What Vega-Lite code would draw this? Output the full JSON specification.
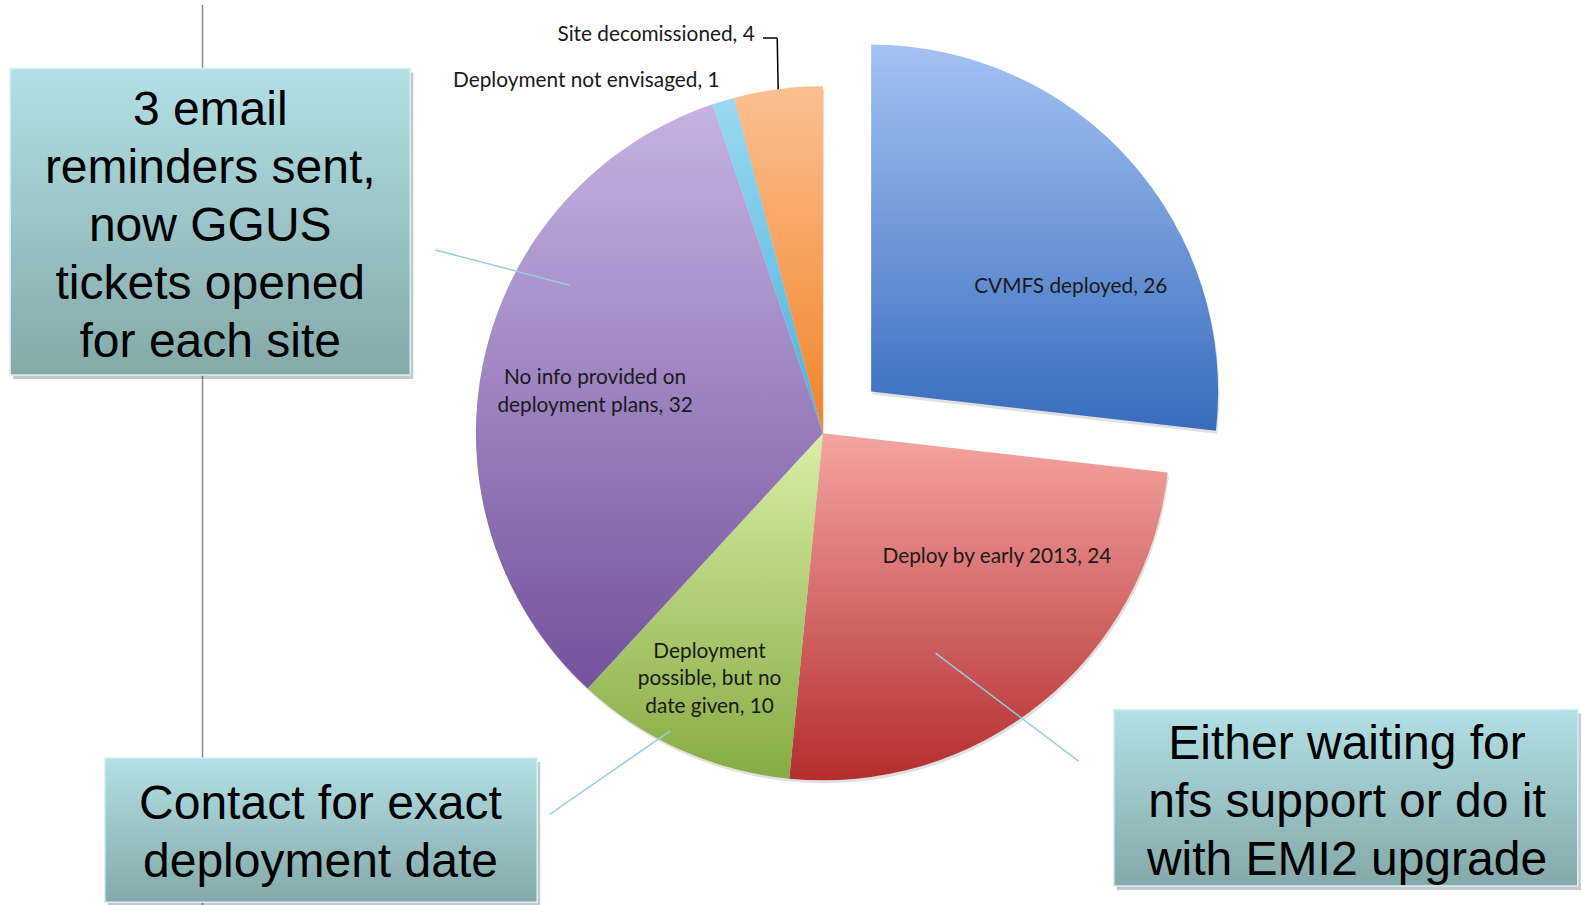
{
  "$schema": "https://vega.github.io/schema/vega-lite/v6.json",
  "width": 1581,
  "height": 905,
  "padding": 0,
  "autosize": {"type": "none"},
  "background": "#ffffff",
  "config": {"view": {"stroke": null}, "axis": {"disable": true}},
  "datasets": {
    "slices": [
      {"category": "CVMFS deployed", "value": 26, "order": 1, "label": "CVMFS deployed, 26"},
      {"category": "Deploy by early 2013", "value": 24, "order": 2, "label": "Deploy by early 2013, 24"},
      {"category": "Deployment possible, but no date given", "value": 10, "order": 3, "label": "Deployment\npossible, but no\ndate given, 10"},
      {"category": "No info provided on deployment plans", "value": 32, "order": 4, "label": "No info provided on\ndeployment plans, 32"},
      {"category": "Deployment not envisaged", "value": 1, "order": 5, "label": "Deployment not envisaged, 1"},
      {"category": "Site decomissioned", "value": 4, "order": 6, "label": "Site decomissioned, 4"}
    ],
    "boxes": [
      {"x1": 0.64, "x2": 25.95, "y1": 7.57, "y2": 41.43, "tx": 13.30, "ty": 12.25, "text": "3 email\nreminders sent,\nnow GGUS\ntickets opened\nfor each site"},
      {"x1": 6.63, "x2": 33.98, "y1": 83.75, "y2": 99.69, "tx": 20.27, "ty": 89.0, "text": "Contact for exact\ndeployment date"},
      {"x1": 70.45, "x2": 99.8, "y1": 78.4, "y2": 97.9, "tx": 85.2, "ty": 82.3, "text": "Either waiting for\nnfs support or do it\nwith EMI2 upgrade"}
    ],
    "divider": [
      {"x1": 12.81, "y1": 0.55, "x2": 12.81, "y2": 100}
    ],
    "connectors": [
      {"x1": 27.54, "y1": 27.62, "x2": 36.03, "y2": 31.52},
      {"x1": 34.75, "y1": 90.0, "x2": 42.40, "y2": 80.75},
      {"x1": 59.17, "y1": 72.17, "x2": 68.22, "y2": 84.10}
    ],
    "leader": [
      {"x1": 48.26, "y1": 4.2, "x2": 49.16, "y2": 4.2},
      {"x1": 49.16, "y1": 4.2, "x2": 49.22, "y2": 9.85}
    ]
  },
  "layer": [
    {
      "data": {"name": "divider"},
      "mark": {"type": "rule", "color": "#8a8a8a", "strokeWidth": 1.5},
      "encoding": {
        "x": {"field": "x1", "type": "quantitative", "scale": {"domain": [0, 100], "nice": false, "zero": false}, "axis": null},
        "y": {"field": "y1", "type": "quantitative", "scale": {"domain": [0, 100], "nice": false, "zero": false, "reverse": true}, "axis": null},
        "x2": {"field": "x2"},
        "y2": {"field": "y2"}
      }
    },
    {
      "data": {"name": "slices"},
      "mark": {"type": "arc", "radius": 347, "opacity": 0.18},
      "encoding": {
        "x": {"datum": 52.13, "type": "quantitative"},
        "y": {"datum": 48.2, "type": "quantitative"},
        "theta": {"field": "value", "type": "quantitative", "stack": true},
        "order": {"field": "order"},
        "fill": {"condition": {"test": "datum.order !== 1", "value": "#555555"}, "value": null}
      }
    },
    {
      "data": {"name": "slices"},
      "mark": {"type": "arc", "radius": 347, "opacity": 0.18},
      "encoding": {
        "x": {"datum": 55.18, "type": "quantitative"},
        "y": {"datum": 43.6, "type": "quantitative"},
        "theta": {"field": "value", "type": "quantitative", "stack": true},
        "order": {"field": "order"},
        "fill": {"condition": {"test": "datum.order === 1", "value": "#555555"}, "value": null}
      }
    },
    {
      "data": {"name": "slices"},
      "mark": {"type": "arc", "radius": 347},
      "encoding": {
        "x": {"datum": 52.05, "type": "quantitative"},
        "y": {"datum": 47.88, "type": "quantitative"},
        "theta": {"field": "value", "type": "quantitative", "stack": true},
        "order": {"field": "order"},
        "fill": {
          "condition": [
            {"test": "datum.order === 2", "value": {"gradient": "linear", "x1": 0, "y1": 0, "x2": 0, "y2": 1, "stops": [{"offset": 0, "color": "#f5a5a2"}, {"offset": 1, "color": "#b32e2e"}]}},
            {"test": "datum.order === 3", "value": {"gradient": "linear", "x1": 0, "y1": 0, "x2": 0, "y2": 1, "stops": [{"offset": 0, "color": "#d8efa5"}, {"offset": 1, "color": "#86ab44"}]}},
            {"test": "datum.order === 4", "value": {"gradient": "linear", "x1": 0, "y1": 0, "x2": 0, "y2": 1, "stops": [{"offset": 0, "color": "#c6b2e2"}, {"offset": 1, "color": "#73529c"}]}},
            {"test": "datum.order === 5", "value": {"gradient": "linear", "x1": 0, "y1": 0, "x2": 0, "y2": 1, "stops": [{"offset": 0, "color": "#9ad8f0"}, {"offset": 1, "color": "#4ab2db"}]}},
            {"test": "datum.order === 6", "value": {"gradient": "linear", "x1": 0, "y1": 0, "x2": 0, "y2": 1, "stops": [{"offset": 0, "color": "#fcbf90"}, {"offset": 1, "color": "#ef8428"}]}}
          ],
          "value": null
        }
      }
    },
    {
      "data": {"name": "slices"},
      "mark": {"type": "arc", "radius": 347},
      "encoding": {
        "x": {"datum": 55.1, "type": "quantitative"},
        "y": {"datum": 43.27, "type": "quantitative"},
        "theta": {"field": "value", "type": "quantitative", "stack": true},
        "order": {"field": "order"},
        "fill": {
          "condition": {"test": "datum.order === 1", "value": {"gradient": "linear", "x1": 0, "y1": 0, "x2": 0, "y2": 1, "stops": [{"offset": 0, "color": "#a4c2f3"}, {"offset": 1, "color": "#386cbd"}]}},
          "value": null
        }
      }
    },
    {
      "data": {"name": "slices"},
      "mark": {"type": "text", "radius": 222, "dx": 34, "dy": 43, "font": "Lato", "fontSize": 20.8, "color": "#1a1a1a", "lineBreak": "\n", "lineHeight": 27.5, "align": "center", "baseline": "middle"},
      "encoding": {
        "x": {"datum": 55.1, "type": "quantitative"},
        "y": {"datum": 43.27, "type": "quantitative"},
        "theta": {"field": "value", "type": "quantitative", "stack": true},
        "order": {"field": "order"},
        "text": {"condition": {"test": "datum.order === 1", "field": "label", "type": "nominal"}, "value": ""}
      }
    },
    {
      "data": {"name": "slices"},
      "mark": {"type": "text", "radius": 210, "dx": 42, "dy": -40, "font": "Lato", "fontSize": 20.8, "color": "#1a1a1a", "lineBreak": "\n", "lineHeight": 27.5, "align": "center", "baseline": "middle"},
      "encoding": {
        "x": {"datum": 52.05, "type": "quantitative"},
        "y": {"datum": 47.88, "type": "quantitative"},
        "theta": {"field": "value", "type": "quantitative", "stack": true},
        "order": {"field": "order"},
        "text": {"condition": {"test": "datum.order === 2", "field": "label", "type": "nominal"}, "value": ""}
      }
    },
    {
      "data": {"name": "slices"},
      "mark": {"type": "text", "radius": 270, "dx": -3, "dy": -28, "font": "Lato", "fontSize": 20.8, "color": "#1a1a1a", "lineBreak": "\n", "lineHeight": 27.5, "align": "center", "baseline": "middle"},
      "encoding": {
        "x": {"datum": 52.05, "type": "quantitative"},
        "y": {"datum": 47.88, "type": "quantitative"},
        "theta": {"field": "value", "type": "quantitative", "stack": true},
        "order": {"field": "order"},
        "text": {"condition": {"test": "datum.order === 3", "field": "label", "type": "nominal"}, "value": ""}
      }
    },
    {
      "data": {"name": "slices"},
      "mark": {"type": "text", "radius": 235, "dx": 2, "dy": -6, "font": "Lato", "fontSize": 20.8, "color": "#1a1a1a", "lineBreak": "\n", "lineHeight": 27.5, "align": "center", "baseline": "middle"},
      "encoding": {
        "x": {"datum": 52.05, "type": "quantitative"},
        "y": {"datum": 47.88, "type": "quantitative"},
        "theta": {"field": "value", "type": "quantitative", "stack": true},
        "order": {"field": "order"},
        "text": {"condition": {"test": "datum.order === 4", "field": "label", "type": "nominal"}, "value": ""}
      }
    },
    {
      "data": {"name": "slices"},
      "mark": {"type": "text", "radius": 370, "dx": 3, "dy": 2, "font": "Lato", "fontSize": 20.8, "color": "#1a1a1a", "align": "right", "baseline": "middle"},
      "encoding": {
        "x": {"datum": 52.05, "type": "quantitative"},
        "y": {"datum": 47.88, "type": "quantitative"},
        "theta": {"field": "value", "type": "quantitative", "stack": true},
        "order": {"field": "order"},
        "text": {"condition": {"test": "datum.order === 5", "field": "label", "type": "nominal"}, "value": ""}
      }
    },
    {
      "data": {"name": "slices"},
      "mark": {"type": "text", "radius": 404, "dx": -16, "dy": 2, "font": "Lato", "fontSize": 20.8, "color": "#1a1a1a", "align": "right", "baseline": "middle"},
      "encoding": {
        "x": {"datum": 52.05, "type": "quantitative"},
        "y": {"datum": 47.88, "type": "quantitative"},
        "theta": {"field": "value", "type": "quantitative", "stack": true},
        "order": {"field": "order"},
        "text": {"condition": {"test": "datum.order === 6", "field": "label", "type": "nominal"}, "value": ""}
      }
    },
    {
      "data": {"name": "leader"},
      "mark": {"type": "rule", "color": "#000000", "strokeWidth": 1.5},
      "encoding": {
        "x": {"field": "x1", "type": "quantitative"},
        "y": {"field": "y1", "type": "quantitative"},
        "x2": {"field": "x2"},
        "y2": {"field": "y2"}
      }
    },
    {
      "data": {"name": "connectors"},
      "mark": {"type": "rule", "color": "#93d0d8", "strokeWidth": 1.5},
      "encoding": {
        "x": {"field": "x1", "type": "quantitative"},
        "y": {"field": "y1", "type": "quantitative"},
        "x2": {"field": "x2"},
        "y2": {"field": "y2"}
      }
    },
    {
      "data": {"name": "boxes"},
      "mark": {"type": "rect", "color": "#000000", "opacity": 0.22, "xOffset": 3, "x2Offset": 3, "yOffset": 4, "y2Offset": 4},
      "encoding": {
        "x": {"field": "x1", "type": "quantitative"},
        "y": {"field": "y1", "type": "quantitative"},
        "x2": {"field": "x2"},
        "y2": {"field": "y2"}
      }
    },
    {
      "data": {"name": "boxes"},
      "mark": {
        "type": "rect",
        "fill": {"gradient": "linear", "x1": 0, "y1": 0, "x2": 0, "y2": 1, "stops": [{"offset": 0, "color": "#b2e0e5"}, {"offset": 1, "color": "#84a9a9"}]},
        "stroke": "#d6f1f3",
        "strokeWidth": 1.5
      },
      "encoding": {
        "x": {"field": "x1", "type": "quantitative"},
        "y": {"field": "y1", "type": "quantitative"},
        "x2": {"field": "x2"},
        "y2": {"field": "y2"}
      }
    },
    {
      "data": {"name": "boxes"},
      "mark": {"type": "text", "font": "Liberation Sans", "fontSize": 48, "lineHeight": 58, "lineBreak": "\n", "color": "#000000", "align": "center", "baseline": "middle"},
      "encoding": {
        "x": {"field": "tx", "type": "quantitative"},
        "y": {"field": "ty", "type": "quantitative"},
        "text": {"field": "text", "type": "nominal"}
      }
    }
  ]
}
